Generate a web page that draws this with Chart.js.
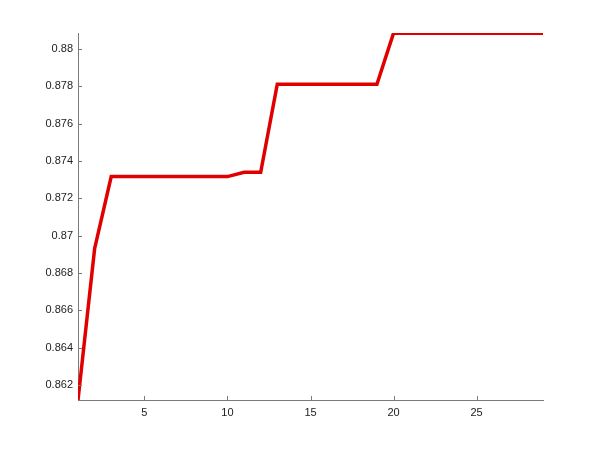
<!DOCTYPE html>
<html>
<head>
<meta charset="utf-8">
<script src="https://cdn.jsdelivr.net/npm/chart.js@4"></script>
<style>
  body { margin: 0; background: #fff; }
  canvas { display: block; }
</style>
</head>
<body>
<canvas id="grafico" width="600" height="450"></canvas>
<script>
// Datos
const iteraciones = [1, 2, 3, 4, 5, 6, 7, 8, 9, 10, 11, 12, 13, 14, 15, 16, 17, 18, 19, 20, 21, 22, 23, 24, 25, 26, 27, 28, 29];
const valores = [0.8612, 0.8693,
    0.87316, 0.87316, 0.87316, 0.87316, 0.87316, 0.87316, 0.87316, 0.87316,
    0.87339, 0.87339,
    0.87811, 0.87811, 0.87811, 0.87811, 0.87811, 0.87811, 0.87811,
    0.88084, 0.88084, 0.88084, 0.88084, 0.88084, 0.88084, 0.88084, 0.88084, 0.88084, 0.88084];
const ticksX = [5, 10, 15, 20, 25];
const ticksY = [0.862, 0.864, 0.866, 0.868, 0.87, 0.872, 0.874, 0.876, 0.878, 0.88];

const colorEje = '#7a7a7a';
const colorTexto = '#222';

// Marcas de los ejes hacia adentro, como en MATLAB
const marcasInternas = {
    id: 'marcasInternas',
    afterDraw(chart) {
        const ctx = chart.ctx;
        const x = chart.scales.x;
        const y = chart.scales.y;
        ctx.save();
        ctx.strokeStyle = colorEje;
        ctx.lineWidth = 1;
        ctx.beginPath();
        ticksX.forEach(v => {
            const px = Math.round(x.getPixelForValue(v)) + 0.5;
            ctx.moveTo(px, y.bottom);
            ctx.lineTo(px, y.bottom - 4);
        });
        ticksY.forEach(v => {
            const py = Math.round(y.getPixelForValue(v)) + 0.5;
            ctx.moveTo(x.left, py);
            ctx.lineTo(x.left + 4, py);
        });
        ctx.stroke();
        ctx.restore();
    }
};

const ctx = document.getElementById('grafico').getContext('2d');

new Chart(ctx, {
    type: 'line',
    data: {
        datasets: [{
            data: iteraciones.map((it, i) => ({ x: it, y: valores[i] })),
            borderColor: '#e10000',
            borderWidth: 3.5,
            pointRadius: 0,
            tension: 0,
            fill: false
        }]
    },
    options: {
        responsive: false,
        animation: false,
        layout: {
            padding: { top: 33, right: 57, left: 0, bottom: 0 }
        },
        plugins: {
            legend: { display: false },
            tooltip: { enabled: false }
        },
        scales: {
            x: {
                type: 'linear',
                min: 1,
                max: 29,
                afterBuildTicks: scale => { scale.ticks = ticksX.map(v => ({ value: v })); },
                afterFit: scale => { scale.height = 50; },
                grid: { display: true, drawOnChartArea: false, drawTicks: false, color: colorEje },
                border: { display: true, color: colorEje },
                ticks: {
                    color: colorTexto,
                    font: { family: 'Liberation Sans', size: 11 },
                    padding: 6,
                    maxRotation: 0
                }
            },
            y: {
                type: 'linear',
                min: 0.8612,
                max: 0.88085,
                afterBuildTicks: scale => { scale.ticks = ticksY.map(v => ({ value: v })); },
                afterFit: scale => { scale.width = 78; },
                grid: { display: true, drawOnChartArea: false, drawTicks: false, color: colorEje },
                border: { display: true, color: colorEje },
                ticks: {
                    color: colorTexto,
                    font: { family: 'Liberation Sans', size: 11 },
                    padding: 5,
                    callback: value => String(+value.toFixed(3))
                }
            }
        }
    },
    plugins: [marcasInternas]
});
</script>
</body>
</html>
